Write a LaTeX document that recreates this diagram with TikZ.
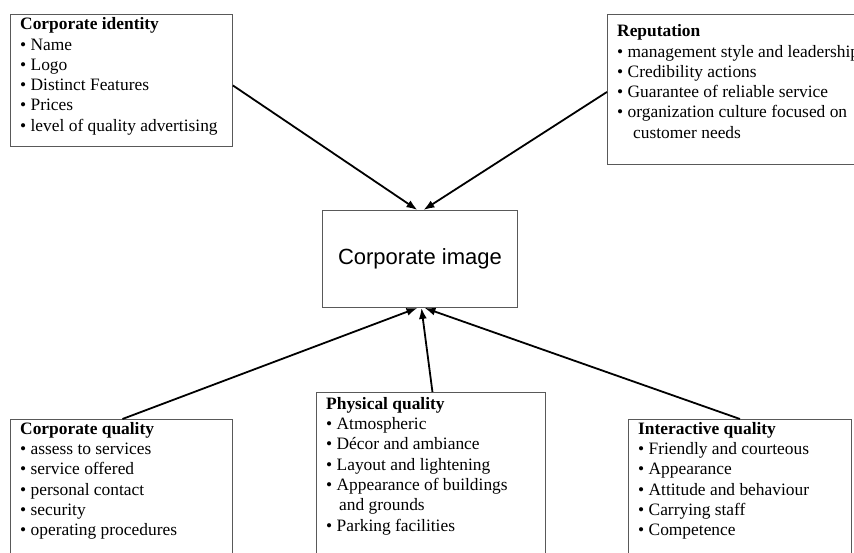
\documentclass[tikz,border=0pt]{standalone}
\usepackage{fontspec}
\setmainfont{Liberation Serif}
\newfontfamily\arialf{Liberation Sans}
\usetikzlibrary{arrows.meta}
\tikzset{
  boxnode/.style={draw=black!65, line width=0.9bp, inner sep=0pt, fill=none},
  txt/.style={inner sep=0pt, align=left, anchor=north west, font=\fontsize{17.4bp}{20.3bp}\selectfont},
  arr/.style={draw=black, line width=1.8bp, -{Latex[length=11bp,width=8bp]}}
}
\begin{document}
\begin{tikzpicture}[x=1bp,y=-1bp]
\useasboundingbox (0,0) rectangle (854,553);
\clip (0,0) rectangle (854,553);
\fill[white] (0,0) rectangle (854,553);
% boxes
\node[boxnode, minimum width=222bp, minimum height=132bp, anchor=north west] (ci) at (10,14) {};
\node[boxnode, minimum width=263bp, minimum height=150bp, anchor=north west] (rep) at (607,14) {};
\node[boxnode, minimum width=195bp, minimum height=97bp, anchor=north west] (img) at (322,210) {};
\node[boxnode, minimum width=222bp, minimum height=160bp, anchor=north west] (cq) at (10,419) {};
\node[boxnode, minimum width=229bp, minimum height=190bp, anchor=north west] (pq) at (316,392) {};
\node[boxnode, minimum width=223bp, minimum height=160bp, anchor=north west] (iq) at (628,419) {};
% texts
\node[txt] (cit) at (20,15.3) {\strut\textbf{Corporate identity}\\
• Name\\
• Logo\\
• Distinct Features\\
• Prices\\
• level of quality advertising};
\node[txt] (rept) at (617,22.3) {\strut\textbf{Reputation}\\
• management style and leadership\\
• Credibility actions\\
• Guarantee of reliable service\\
• organization culture focused on\\
\hspace*{16bp}customer needs};
\node[font=\arialf\fontsize{22bp}{26bp}\selectfont, inner sep=0pt] (imgt) at (img.center) {Corporate image};
\node[txt] (cqt) at (20,419.8) {\strut\textbf{Corporate quality}\\
• assess to services\\
• service offered\\
• personal contact\\
• security\\
• operating procedures};
\node[txt] (pqt) at (326,394.8) {\strut\textbf{Physical quality}\\
• Atmospheric\\
• Décor and ambiance\\
• Layout and lightening\\
• Appearance of buildings\\
\hspace*{13bp}and grounds\\
• Parking facilities};
\node[txt] (iqt) at (638,419.8) {\strut\textbf{Interactive quality}\\
• Friendly and courteous\\
• Appearance\\
• Attitude and behaviour\\
• Carrying staff\\
• Competence};
% arrows
\draw[arr] ([yshift=-5bp]ci.east) -- ([xshift=-2.5bp]img.north);
\draw[arr] ([yshift=-2.5bp]rep.west) -- ([xshift=3.5bp]img.north);
\draw[arr] ([xshift=1bp]cq.north) -- ([xshift=-2.5bp]img.south);
\draw[arr] ([xshift=1.5bp]pq.north) -- ([xshift=1.5bp]img.south);
\draw[arr] (iq.north) -- ([xshift=4.5bp]img.south);
\end{tikzpicture}
\end{document}
